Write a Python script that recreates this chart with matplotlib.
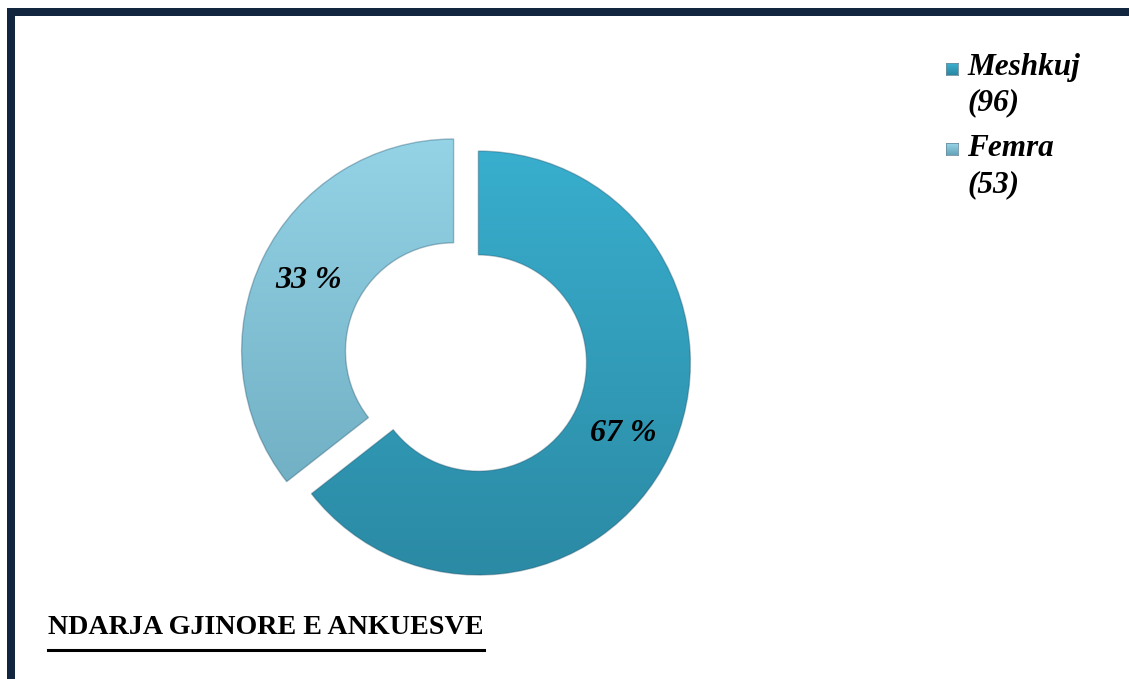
import numpy as np
import matplotlib
matplotlib.use("Agg")
import matplotlib.pyplot as plt
from matplotlib.patches import Rectangle
from matplotlib.colors import LinearSegmentedColormap
from matplotlib.lines import Line2D

# data
categories = ["Meshkuj", "Femra"]
counts = [96, 53]
pct_labels = ["67 %", "33 %"]
title = "NDARJA GJINORE E ANKUESVE"

W, H = 1129, 679
fig = plt.figure(figsize=(W / 100, H / 100), dpi=100)
fig.patch.set_facecolor("white")

# pie axes: centre ~ (466, 357) px, radius ~ 212 px
R = 212.0
cx, cy = 466.0, 357.0
half = 1.2 * R
ax = fig.add_axes([(cx - half) / W, (H - cy - half) / H, 2 * half / W, 2 * half / H])
ax.set_aspect("equal")
ax.axis("off")

# top / bottom gradient colours per wedge
grads = [("#3ab2d2", "#2a87a1"), ("#98d6ea", "#65a3b8")]

wedges, texts = ax.pie(counts, labels=pct_labels, startangle=90, counterclock=False,
                       explode=[0.065, 0.065], labeldistance=0.76,
                       wedgeprops=dict(width=0.49, edgecolor="none", facecolor="none"),
                       textprops=dict(fontsize=23, fontweight="bold", fontstyle="italic",
                                      family="Liberation Serif", color="black"))
ax.set_xlim(-1.2, 1.2)
ax.set_ylim(-1.2, 1.2)

grad = np.linspace(1, 0, 256).reshape(-1, 1)
for w, (top, bot) in zip(wedges, grads):
    cmap = LinearSegmentedColormap.from_list("g", [bot, top])
    im = ax.imshow(grad, cmap=cmap, extent=[-1.2, 1.2, -1.2, 1.2], origin="upper",
                   aspect="auto", zorder=1, vmin=0, vmax=1)
    im.set_clip_path(w)
    w.set_edgecolor((0.1, 0.3, 0.4, 0.35))
    w.set_linewidth(1.0)
    w.set_zorder(2)

for t in texts:
    t.set_ha("center")
    t.set_va("center")
    t.set_zorder(5)

# legend (manual, text wraps onto two lines)
leg_rows = [(68, 103), (148, 185)]
for cat, n, (y1, y2), (top, bot) in zip(categories, counts, leg_rows, grads):
    sq = fig.add_axes([946 / W, 1 - (y1 + 7) / H, 12 / W, 12 / H])
    sq.imshow(grad, cmap=LinearSegmentedColormap.from_list("g", [bot, top]),
              aspect="auto", vmin=0, vmax=1)
    sq.set_xticks([])
    sq.set_yticks([])
    for s in sq.spines.values():
        s.set_color("#6c8fa0")
        s.set_linewidth(0.6)
    fig.text(967 / W, 1 - y1 / H, cat, fontsize=22.5, fontweight="bold", fontstyle="italic",
             family="Liberation Serif", va="center", ha="left")
    fig.text(967 / W, 1 - y2 / H, "(%d)" % n, fontsize=22.5, fontweight="bold",
             fontstyle="italic", family="Liberation Serif", va="center", ha="left")

# title with underline
ttl = fig.text(48 / W, 1 - 628 / H, title, fontsize=20.2, fontweight="bold",
               family="Liberation Serif", va="center", ha="left")
fig.canvas.draw()
bb = ttl.get_window_extent()
uy = 1 - 650 / H
fig.add_artist(Line2D([bb.x0 / W, bb.x1 / W], [uy, uy], color="black", lw=2.2,
                      transform=fig.transFigure))

# dark frame (left and top)
frame = "#13263f"
fig.add_artist(Rectangle((7 / W, 0), 8 / W, 1 - 8 / H, transform=fig.transFigure,
                         color=frame, lw=0))
fig.add_artist(Rectangle((7 / W, 1 - 16 / H), 1 - 7 / W, 8 / H, transform=fig.transFigure,
                         color=frame, lw=0))

fig.savefig("out.png", dpi=100, facecolor="white")
